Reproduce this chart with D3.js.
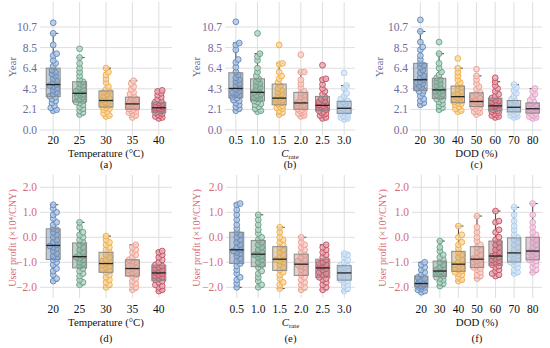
<!DOCTYPE html>
<html>
<head>
<meta charset="utf-8">
<script src="https://cdn.jsdelivr.net/npm/d3@7"></script>
<style>
  body { margin: 0; background: #fff; }
  svg text { font-family: "Liberation Serif", "DejaVu Serif", serif; }
</style>
</head>
<body>
<svg id="chart" width="550" height="348"></svg>
<script>
// categories
var tempCats = ["20", "25", "30", "35", "40"];
var crateCats = ["0.5", "1.0", "1.5", "2.0", "2.5", "3.0"];
var dodCats = ["20", "30", "40", "50", "60", "70", "80"];

// tick labels
var yearTicks = [0, 2.132, 4.264, 6.396, 8.528, 10.66];
var yearTickLabels = ["0.0", "2.1", "4.3", "6.4", "8.5", "10.7"];
var profitTicks = [-2, -1, 0, 1, 2];
var profitTickLabels = ["\u22122.0", "\u22121.0", "0.0", "1.0", "2.0"];

// group colours
var palette = ["#5b87c0", "#62a083", "#f2aa40", "#ee9b8b", "#c64a5c", "#a9cbee", "#e39bc5"];

// (a) lifetime vs temperature, years
var yearTemp = [
  [2.0, 2.1, 2.3, 2.5, 2.8, 3.0, 3.2, 3.4, 3.5, 3.7, 3.9, 4.1, 4.3, 4.5, 4.6, 4.7, 4.9, 5.1, 5.3, 5.6, 5.8, 6.0, 6.2, 6.6, 6.9, 7.2, 7.7, 7.9, 8.8, 10.0, 11.1],
  [1.6, 1.8, 2.0, 2.2, 2.4, 2.6, 2.8, 2.9, 3.0, 3.2, 3.4, 3.5, 3.6, 3.7, 3.8, 3.9, 4.0, 4.2, 4.4, 4.6, 4.8, 5.0, 5.2, 5.6, 6.0, 6.4, 6.9, 7.5, 8.4],
  [1.4, 1.5, 1.7, 1.9, 2.1, 2.2, 2.3, 2.4, 2.5, 2.6, 2.7, 2.8, 2.9, 3.0, 3.1, 3.2, 3.3, 3.5, 3.7, 3.9, 4.0, 4.2, 4.5, 4.9, 5.3, 5.7, 6.0, 6.4],
  [1.3, 1.5, 1.7, 1.8, 1.9, 2.0, 2.1, 2.2, 2.3, 2.4, 2.5, 2.6, 2.6, 2.7, 2.8, 2.9, 3.0, 3.1, 3.2, 3.3, 3.5, 3.7, 3.9, 4.2, 4.5, 4.8, 5.1],
  [1.2, 1.3, 1.4, 1.5, 1.6, 1.7, 1.8, 1.8, 1.9, 2.0, 2.0, 2.1, 2.2, 2.2, 2.3, 2.3, 2.4, 2.5, 2.5, 2.6, 2.7, 2.8, 2.9, 3.0, 3.2, 3.4, 3.6, 3.8, 4.0, 4.1]
];

// (b) lifetime vs C-rate
var yearCrate = [
  [2.0, 2.2, 2.4, 2.6, 2.8, 3.0, 3.1, 3.3, 3.4, 3.6, 3.7, 3.8, 3.9, 4.0, 4.2, 4.4, 4.6, 4.8, 5.0, 5.2, 5.4, 5.7, 6.0, 6.5, 7.0, 7.3, 8.3, 8.8, 9.0, 11.2],
  [1.9, 2.0, 2.2, 2.4, 2.6, 2.7, 2.9, 3.0, 3.2, 3.3, 3.4, 3.5, 3.6, 3.7, 3.9, 4.0, 4.2, 4.4, 4.6, 4.8, 5.0, 5.3, 5.6, 6.0, 6.4, 7.2, 7.6, 7.9, 10.0],
  [1.6, 1.8, 2.0, 2.2, 2.3, 2.4, 2.5, 2.7, 2.8, 2.9, 3.0, 3.1, 3.2, 3.3, 3.5, 3.7, 3.9, 4.1, 4.3, 4.6, 4.9, 5.3, 5.6, 6.0, 6.8, 6.9, 8.8],
  [1.4, 1.5, 1.7, 1.8, 1.9, 2.0, 2.1, 2.2, 2.3, 2.4, 2.5, 2.6, 2.7, 2.8, 2.9, 3.0, 3.2, 3.4, 3.6, 3.8, 4.0, 4.4, 4.8, 5.2, 6.0, 6.0, 7.8],
  [1.2, 1.3, 1.5, 1.6, 1.7, 1.8, 1.9, 2.0, 2.1, 2.2, 2.3, 2.3, 2.4, 2.5, 2.6, 2.7, 2.8, 2.9, 3.0, 3.2, 3.4, 3.7, 4.0, 4.3, 4.7, 5.2, 5.3, 6.7],
  [1.1, 1.2, 1.3, 1.4, 1.5, 1.6, 1.7, 1.8, 1.9, 2.0, 2.1, 2.1, 2.2, 2.3, 2.4, 2.5, 2.6, 2.7, 2.9, 3.0, 3.2, 3.5, 3.8, 4.3, 4.6, 5.9]
];

// (c) lifetime vs DOD
var yearDod = [
  [2.6, 2.8, 3.0, 3.2, 3.5, 3.8, 4.0, 4.1, 4.3, 4.4, 4.6, 4.8, 4.9, 5.0, 5.2, 5.4, 5.6, 5.9, 6.2, 6.5, 6.7, 6.9, 7.3, 7.7, 8.3, 8.6, 9.1, 10.2, 11.4],
  [2.1, 2.3, 2.5, 2.7, 2.9, 3.1, 3.2, 3.4, 3.6, 3.7, 3.9, 4.0, 4.1, 4.2, 4.4, 4.6, 4.8, 5.0, 5.2, 5.4, 5.7, 6.0, 6.4, 6.9, 7.9, 9.1],
  [1.9, 2.0, 2.2, 2.4, 2.6, 2.7, 2.8, 2.9, 3.0, 3.1, 3.2, 3.3, 3.4, 3.5, 3.6, 3.8, 4.0, 4.2, 4.4, 4.6, 4.9, 5.2, 5.6, 6.0, 6.4, 7.4],
  [1.6, 1.8, 1.9, 2.0, 2.2, 2.3, 2.4, 2.5, 2.6, 2.7, 2.8, 2.9, 2.9, 3.0, 3.1, 3.2, 3.3, 3.5, 3.7, 3.9, 4.2, 4.5, 4.8, 5.2, 5.6, 6.3],
  [1.3, 1.4, 1.5, 1.6, 1.7, 1.8, 1.9, 2.0, 2.0, 2.1, 2.2, 2.3, 2.4, 2.5, 2.5, 2.6, 2.7, 2.8, 2.9, 3.0, 3.1, 3.3, 3.5, 3.7, 4.0, 4.3, 4.6, 5.0, 5.4],
  [1.3, 1.4, 1.5, 1.6, 1.7, 1.8, 1.9, 2.0, 2.1, 2.2, 2.2, 2.3, 2.4, 2.5, 2.6, 2.7, 2.8, 3.0, 3.2, 3.5, 3.8, 4.1, 4.4, 4.7],
  [1.2, 1.3, 1.4, 1.5, 1.6, 1.7, 1.8, 1.9, 2.0, 2.0, 2.1, 2.2, 2.3, 2.4, 2.5, 2.6, 2.7, 2.9, 3.1, 3.4, 3.7, 4.0, 4.3]
];

// (d) user profit vs temperature, 10^4 CNY
var profitTemp = [
  [-1.75, -1.65, -1.5, -1.35, -1.25, -1.1, -1.0, -0.9, -0.85, -0.75, -0.65, -0.55, -0.45, -0.4, -0.35, -0.3, -0.2, -0.1, 0.0, 0.1, 0.2, 0.3, 0.35, 0.5, 0.6, 0.75, 0.9, 1.0, 1.15, 1.3],
  [-1.9, -1.8, -1.7, -1.55, -1.45, -1.35, -1.25, -1.15, -1.05, -1.0, -0.9, -0.85, -0.8, -0.75, -0.7, -0.6, -0.5, -0.4, -0.3, -0.2, -0.1, 0.0, 0.1, 0.2, 0.4, 0.6],
  [-2.0, -1.9, -1.8, -1.7, -1.6, -1.5, -1.4, -1.35, -1.3, -1.2, -1.15, -1.1, -1.05, -1.0, -0.95, -0.9, -0.8, -0.7, -0.6, -0.5, -0.4, -0.3, -0.2, -0.1, 0.05],
  [-2.1, -2.0, -1.9, -1.85, -1.75, -1.65, -1.55, -1.5, -1.45, -1.4, -1.35, -1.3, -1.25, -1.2, -1.15, -1.1, -1.0, -0.95, -0.9, -0.8, -0.7, -0.6, -0.5, -0.4, -0.3],
  [-2.15, -2.1, -2.0, -1.95, -1.9, -1.8, -1.75, -1.7, -1.65, -1.6, -1.55, -1.5, -1.45, -1.4, -1.35, -1.3, -1.25, -1.2, -1.15, -1.1, -1.0, -0.9, -0.8, -0.7, -0.6, -0.55]
];

// (e) user profit vs C-rate
var profitCrate = [
  [-2.0, -1.85, -1.7, -1.6, -1.45, -1.3, -1.15, -1.05, -0.95, -0.85, -0.75, -0.65, -0.6, -0.55, -0.5, -0.4, -0.3, -0.2, -0.1, 0.0, 0.1, 0.2, 0.35, 0.5, 0.7, 0.9, 1.1, 1.3, 1.35],
  [-2.0, -1.9, -1.75, -1.6, -1.45, -1.35, -1.2, -1.1, -1.0, -0.9, -0.8, -0.75, -0.7, -0.65, -0.6, -0.5, -0.4, -0.3, -0.2, -0.1, 0.0, 0.15, 0.3, 0.5, 0.7, 0.9],
  [-2.05, -1.9, -1.8, -1.65, -1.5, -1.4, -1.3, -1.2, -1.1, -1.0, -0.95, -0.9, -0.85, -0.8, -0.7, -0.6, -0.5, -0.4, -0.3, -0.2, -0.1, 0.0, 0.2, 0.4],
  [-2.1, -2.0, -1.9, -1.8, -1.7, -1.6, -1.5, -1.4, -1.3, -1.2, -1.15, -1.1, -1.05, -1.0, -0.95, -0.9, -0.8, -0.7, -0.6, -0.5, -0.4, -0.3, -0.2, 0.0],
  [-2.1, -2.0, -1.9, -1.8, -1.7, -1.65, -1.6, -1.5, -1.45, -1.4, -1.3, -1.25, -1.2, -1.15, -1.1, -1.05, -1.0, -0.9, -0.8, -0.7, -0.6, -0.5, -0.4, -0.3],
  [-2.15, -2.05, -1.95, -1.9, -1.8, -1.75, -1.7, -1.65, -1.6, -1.55, -1.5, -1.45, -1.4, -1.35, -1.3, -1.25, -1.2, -1.15, -1.1, -1.0, -0.9, -0.8, -0.7, -0.65]
];

// (f) user profit vs DOD
var profitDod = [
  [-2.2, -2.15, -2.1, -2.05, -2.0, -2.0, -1.95, -1.95, -1.9, -1.9, -1.88, -1.85, -1.8, -1.75, -1.7, -1.65, -1.6, -1.5, -1.4, -1.3, -1.2, -1.1, -1.0],
  [-1.95, -1.85, -1.8, -1.7, -1.65, -1.6, -1.55, -1.5, -1.45, -1.42, -1.4, -1.35, -1.3, -1.25, -1.2, -1.1, -1.0, -0.9, -0.8, -0.7, -0.55, -0.4, -0.15],
  [-1.75, -1.7, -1.6, -1.5, -1.45, -1.4, -1.35, -1.3, -1.25, -1.2, -1.15, -1.1, -1.05, -1.0, -0.9, -0.8, -0.7, -0.6, -0.45, -0.3, -0.2, 0.0, 0.1, 0.45],
  [-1.65, -1.55, -1.5, -1.4, -1.3, -1.25, -1.2, -1.1, -1.05, -1.0, -0.95, -0.9, -0.85, -0.8, -0.7, -0.6, -0.5, -0.4, -0.3, -0.15, 0.0, 0.2, 0.4, 0.85],
  [-1.55, -1.5, -1.45, -1.35, -1.3, -1.2, -1.15, -1.1, -1.0, -0.95, -0.9, -0.85, -0.8, -0.75, -0.7, -0.6, -0.5, -0.4, -0.3, -0.2, -0.1, 0.0, 0.2, 0.3, 0.6, 0.65, 1.05],
  [-1.45, -1.4, -1.3, -1.2, -1.1, -1.05, -1.0, -0.95, -0.9, -0.8, -0.75, -0.7, -0.65, -0.6, -0.5, -0.4, -0.3, -0.2, -0.1, 0.0, 0.1, 0.3, 0.45, 0.65, 0.9, 1.2],
  [-1.4, -1.3, -1.2, -1.1, -1.0, -0.95, -0.9, -0.85, -0.8, -0.7, -0.65, -0.6, -0.55, -0.5, -0.4, -0.3, -0.2, -0.1, 0.0, 0.1, 0.2, 0.4, 0.6, 0.9, 1.35]
];

var yearColor = "#6c6c9c", profitColor = "#d56a7a", gridColor = "#dedede";
var serif = "'Liberation Serif', 'DejaVu Serif', serif";

var svg = d3.select("#chart").attr("font-family", serif);

// panel layout (plot areas)
var panels = [
  {cats: tempCats,  data: yearTemp,    x0: 40,  x1: 172, top: true,  xlab: "Temperature (\u00b0C)", tag: "(a)", labX: 12},
  {cats: crateCats, data: yearCrate,   x0: 225, x1: 355, top: true,  xlab: "crate", tag: "(b)", labX: 196},
  {cats: dodCats,   data: yearDod,     x0: 411, x1: 542, top: true,  xlab: "DOD (%)", tag: "(c)", labX: 379},
  {cats: tempCats,  data: profitTemp,  x0: 40,  x1: 172, top: false, xlab: "Temperature (\u00b0C)", tag: "(d)", labX: 12},
  {cats: crateCats, data: profitCrate, x0: 226, x1: 355, top: false, xlab: "crate", tag: "(e)", labX: 196},
  {cats: dodCats,   data: profitDod,   x0: 412, x1: 542, top: false, xlab: "DOD (%)", tag: "(f)", labX: 382}
];

panels.forEach(drawPanel);

function drawPanel(p){
  var g = svg.append("g");
  var yTop = p.top ? 2 : 175, yBot = p.top ? 135 : 298;

  var y = p.top
    ? d3.scaleLinear().domain([0, 10.66]).range([130, 27])
    : d3.scaleLinear().domain([-2, 2]).range([287.3, 187.3]);
  var x = d3.scalePoint().domain(p.cats).range([p.x0, p.x1]).padding(0.5);
  var step = x.step();

  var ticks = p.top ? yearTicks : profitTicks;
  var tickLabels = p.top ? yearTickLabels : profitTickLabels;
  var axColor = p.top ? yearColor : profitColor;

  // grid
  g.selectAll(".hg").data(ticks).enter().append("line")
    .attr("x1", p.x0).attr("x2", p.x1)
    .attr("y1", function(d){ return y(d); }).attr("y2", function(d){ return y(d); })
    .attr("stroke", gridColor).attr("stroke-width", 1);
  g.selectAll(".vg").data(p.cats).enter().append("line")
    .attr("x1", function(d){ return x(d); }).attr("x2", function(d){ return x(d); })
    .attr("y1", yTop).attr("y2", yBot)
    .attr("stroke", gridColor).attr("stroke-width", 1);

  // y tick labels
  g.selectAll(".yt").data(ticks).enter().append("text")
    .attr("x", p.x0 - 3).attr("y", function(d){ return y(d); })
    .attr("dy", "0.35em").attr("text-anchor", "end")
    .attr("font-size", 11.5).attr("fill", axColor)
    .text(function(d, i){ return tickLabels[i]; });

  // x tick labels
  g.selectAll(".xt").data(p.cats).enter().append("text")
    .attr("x", function(d){ return x(d); }).attr("y", p.top ? 144 : 313)
    .attr("text-anchor", "middle").attr("font-size", 11.5).attr("fill", "#111")
    .text(function(d){ return d; });

  // y label
  var yl = g.append("text")
    .attr("transform", "translate(" + p.labX + "," + (p.top ? 67 : 238) + ") rotate(-90)")
    .attr("text-anchor", "middle").attr("dy", "0.35em")
    .attr("fill", axColor);
  if (p.top) yl.attr("font-size", 11).text("Year");
  else yl.attr("font-size", 10.2).text("User profit (\u00d710\u2074/CNY)");

  // x label
  var cx = (p.x0 + p.x1) / 2;
  var xl = g.append("text").attr("x", cx).attr("y", p.top ? 156.5 : 325.5)
    .attr("text-anchor", "middle").attr("font-size", 10.8).attr("fill", "#111");
  if (p.xlab === "crate") {
    xl.append("tspan").attr("font-style", "italic").text("C");
    xl.append("tspan").attr("font-size", 6.8).attr("dy", 2).text("rate");
  } else {
    xl.text(p.xlab);
  }

  g.append("text").attr("x", cx).attr("y", p.top ? 168 : 342)
    .attr("text-anchor", "middle").attr("font-size", 10.8).attr("fill", "#111")
    .text(p.tag);

  var boxW = Math.min(14, step * 0.72);

  p.data.forEach(function(vals, i){
    var col = palette[i];
    var cxg = x(p.cats[i]);
    var s = vals.slice().sort(d3.ascending);
    var q1 = d3.quantile(s, 0.25), med = d3.quantile(s, 0.5), q3 = d3.quantile(s, 0.75);
    var iqr = q3 - q1;
    var lo = d3.min(s.filter(function(v){ return v >= q1 - 1.5 * iqr; }));
    var hi = d3.max(s.filter(function(v){ return v <= q3 + 1.5 * iqr; }));

    // whiskers
    g.append("line").attr("x1", cxg).attr("x2", cxg).attr("y1", y(q3)).attr("y2", y(hi))
      .attr("stroke", "#444").attr("stroke-width", 1);
    g.append("line").attr("x1", cxg).attr("x2", cxg).attr("y1", y(q1)).attr("y2", y(lo))
      .attr("stroke", "#444").attr("stroke-width", 1);
    [lo, hi].forEach(function(v){
      g.append("line").attr("x1", cxg - 3).attr("x2", cxg + 5).attr("y1", y(v)).attr("y2", y(v))
        .attr("stroke", "#444").attr("stroke-width", 1);
    });

    // points, placed as a narrow swarm
    var placed = [];
    var offsets = [0, 1.2, -1.2, 2.4, -2.4, 3.4, -3.4];
    s.forEach(function(v){
      var py = y(v), best = 0, bestD = -1;
      for (var k = 0; k < offsets.length; k++) {
        var ox = offsets[k], md = Infinity;
        placed.forEach(function(q){
          var dd = Math.hypot(q[0] - ox, q[1] - py);
          if (dd < md) md = dd;
        });
        if (md >= 3.6) { best = ox; bestD = md; break; }
        if (md > bestD) { bestD = md; best = ox; }
      }
      placed.push([best, py]);
    });

    var light = d3.interpolateRgb(col, "#ffffff")(0.55);
    g.selectAll(".pt" + i).data(placed).enter().append("circle")
      .attr("cx", function(d){ return cxg + d[0]; })
      .attr("cy", function(d){ return d[1]; })
      .attr("r", 2.9)
      .attr("fill", light).attr("fill-opacity", 0.85)
      .attr("stroke", col).attr("stroke-width", 0.9);

    // box, translucent over the points
    g.append("rect").attr("x", cxg - boxW / 2).attr("width", boxW)
      .attr("y", y(q3)).attr("height", y(q1) - y(q3))
      .attr("fill", d3.interpolateRgb(col, "#8c8c8c")(0.45)).attr("fill-opacity", 0.45)
      .attr("stroke", "#8a8a8a").attr("stroke-width", 1);

    // median
    g.append("line").attr("x1", cxg - boxW / 2).attr("x2", cxg + boxW / 2)
      .attr("y1", y(med)).attr("y2", y(med))
      .attr("stroke", "#222").attr("stroke-width", 1.3);
  });
}
</script>
</body>
</html>
